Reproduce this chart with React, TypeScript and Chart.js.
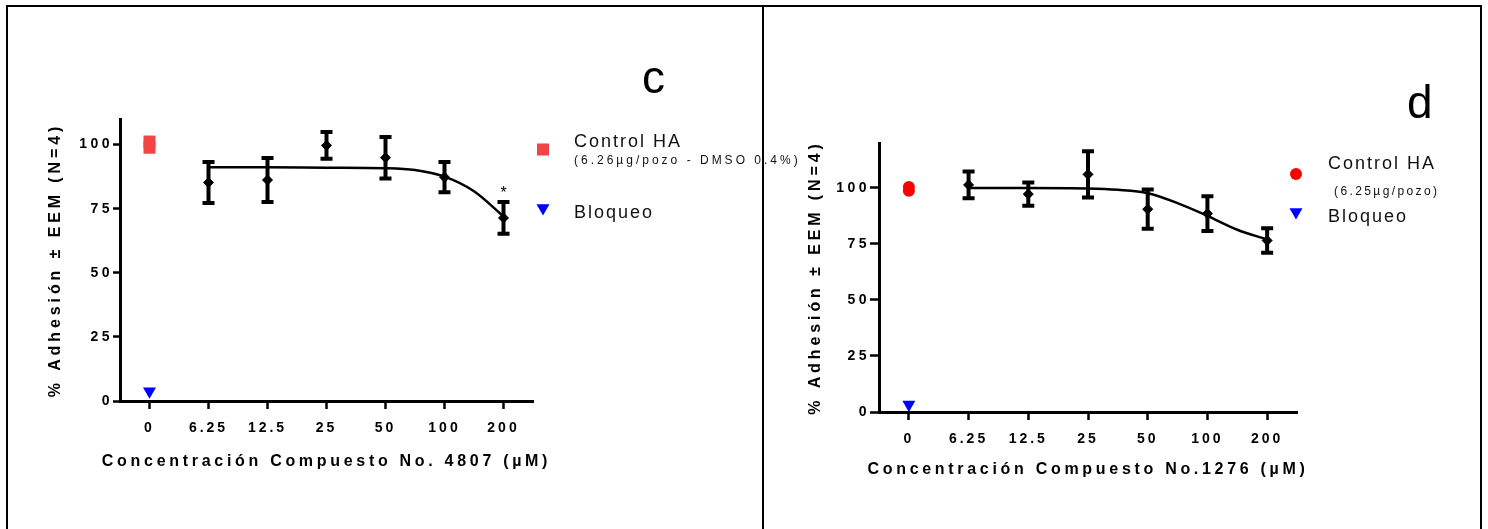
import React, { useEffect, useRef } from "react";
import { Chart, registerables, LinearScale } from "chart.js";
import { drawPoint } from "chart.js/helpers";

Chart.register(...registerables);

class SpacedLinearScale extends LinearScale {
  static id = "spacedLinear";
  drawLabels(chartArea: any) {
    const ctx = this.ctx as any;
    ctx.save();
    ctx.letterSpacing = (this.options as any).labelSpacing ?? "0px";
    super.drawLabels(chartArea);
    ctx.restore();
  }
  drawTitle() {
    const ctx = this.ctx as any;
    ctx.save();
    ctx.letterSpacing = (this.options as any).titleSpacing ?? "0px";
    const proto = Object.getPrototypeOf(ctx);
    // draw the title without compressing it to the axis length
    ctx.fillText = function (t: string, x: number, y: number) {
      return proto.fillText.call(this, t, x, y);
    };
    try {
      super.drawTitle();
    } finally {
      delete ctx.fillText;
      ctx.restore();
    }
  }
}
Chart.register(SpacedLinearScale as any);
Chart.defaults.font.family = '"Liberation Sans", Arial, sans-serif';

// ---------- data ----------
const X_LABELS = ["0", "6.25", "12.5", "25", "50", "100", "200"];
const Y_TICKS = [0, 25, 50, 75, 100];
const DOSE_IDX = [1, 2, 3, 4, 5, 6];
const Y_TITLE = "% Adhesión ± EEM (N=4)";

// panel c
const C_MEAN = [85.2, 86.2, 99.7, 94.9, 87.3, 71.4];
const C_SEM = [8.0, 8.6, 5.2, 8.1, 5.9, 6.2];
const C_FIT_X = [1, 2, 3, 4, 4.5, 5, 5.5, 6];
const C_FIT_Y = [91.2, 91.2, 91.0, 90.8, 90.1, 87.5, 81.8, 72.0];
const C_CONTROL = [101.2, 98.8];
const C_BLOCK = [3.8];
const C_STAR_IDX = [6];
const C_X_TITLE = "Concentración Compuesto No. 4807 (µM)";
const C_CONTROL_SUB = "(6.26µg/pozo - DMSO 0.4%)";

// panel d
const D_MEAN = [101.3, 97.2, 106.0, 90.5, 88.5, 76.5];
const D_SEM = [6.0, 5.2, 10.3, 8.8, 7.8, 5.5];
const D_FIT_X = [1, 2, 3, 3.5, 4, 4.5, 5, 5.5, 6];
const D_FIT_Y = [99.9, 99.9, 99.7, 99.1, 97.6, 93.2, 87.5, 81.3, 77.0];
const D_CONTROL = [100.4, 98.7];
const D_BLOCK = [3.3];
const D_STAR_IDX: number[] = [];
const D_X_TITLE = "Concentración Compuesto No.1276 (µM)";
const D_CONTROL_SUB = "(6.25µg/pozo)";

type PanelCfg = {
  letter: string;
  mean: number[];
  sem: number[];
  fitX: number[];
  fitY: number[];
  control: number[];
  block: number[];
  stars: number[];
  xTitle: string;
  controlSub: string;
  controlStyle: string;
  controlRadius: number;
  controlColor: string;
  canvasLeft: number;
  canvasWidth: number;
  padding: { left: number; right: number; top: number; bottom: number };
  yWidth: number;
  yMax: number;
  yTickLen: number;
  yTitlePadTop: number;
  xScaleHeight: number;
  xTickPad: number;
  xTitlePadBottom: number;
  letterPos: [number, number];
  legendMarkerX: number;
  legendTextX: number;
  legendSubX: number;
  ctrlMarkerY: number;
  ctrlTextY: number;
  ctrlSubY: number;
  blkMarkerY: number;
  blkTextY: number;
  subSpacing: string;
};

const PANELS: PanelCfg[] = [
  {
    letter: "c",
    mean: C_MEAN,
    sem: C_SEM,
    fitX: C_FIT_X,
    fitY: C_FIT_Y,
    control: C_CONTROL,
    block: C_BLOCK,
    stars: C_STAR_IDX,
    xTitle: C_X_TITLE,
    controlSub: C_CONTROL_SUB,
    controlStyle: "rect",
    controlRadius: 8.5,
    controlColor: "#F24444",
    canvasLeft: 0,
    canvasWidth: 820,
    padding: { left: 48, right: 287, top: 119, bottom: 48 },
    yWidth: 72,
    yMax: 110,
    yTickLen: 7,
    yTitlePadTop: -2,
    xScaleHeight: 80,
    xTickPad: 11,
    xTitlePadBottom: 10,
    letterPos: [642, 93],
    legendMarkerX: 543,
    legendTextX: 574,
    legendSubX: 574,
    ctrlMarkerY: 149.5,
    ctrlTextY: 147,
    ctrlSubY: 164,
    blkMarkerY: 208,
    blkTextY: 218,
    subSpacing: "3px",
  },
  {
    letter: "d",
    mean: D_MEAN,
    sem: D_SEM,
    fitX: D_FIT_X,
    fitY: D_FIT_Y,
    control: D_CONTROL,
    block: D_BLOCK,
    stars: D_STAR_IDX,
    xTitle: D_X_TITLE,
    controlSub: D_CONTROL_SUB,
    controlStyle: "circle",
    controlRadius: 6,
    controlColor: "#FF0000",
    canvasLeft: 764,
    canvasWidth: 724,
    padding: { left: 43, right: 191, top: 143, bottom: 37 },
    yWidth: 72,
    yMax: 120,
    yTickLen: 9,
    yTitlePadTop: -1,
    xScaleHeight: 80,
    xTickPad: 11,
    xTitlePadBottom: 13,
    letterPos: [643, 118],
    legendMarkerX: 532,
    legendTextX: 564,
    legendSubX: 570,
    ctrlMarkerY: 174,
    ctrlTextY: 169,
    ctrlSubY: 195,
    blkMarkerY: 212,
    blkTextY: 222,
    subSpacing: "2.4px",
  },
];

function makePlugin(p: PanelCfg) {
  return {
    id: "panelDecor" + p.letter,
    beforeDatasetsDraw(chart: any) {
      const { ctx } = chart;
      const xs = chart.scales.x;
      const ys = chart.scales.y;
      ctx.save();
      ctx.strokeStyle = "#000";
      ctx.lineWidth = 4;
      ctx.lineCap = "butt";
      DOSE_IDX.forEach((xi, i) => {
        const x = xs.getPixelForValue(xi);
        const yT = ys.getPixelForValue(p.mean[i] + p.sem[i]);
        const yB = ys.getPixelForValue(p.mean[i] - p.sem[i]);
        ctx.beginPath();
        ctx.moveTo(x, yT);
        ctx.lineTo(x, yB);
        ctx.moveTo(x - 6, yT);
        ctx.lineTo(x + 6, yT);
        ctx.moveTo(x - 6, yB);
        ctx.lineTo(x + 6, yB);
        ctx.stroke();
      });
      ctx.restore();
    },
    afterDraw(chart: any) {
      const { ctx } = chart;
      const xs = chart.scales.x;
      const ys = chart.scales.y;
      const ds = chart.data.datasets;
      ctx.save();
      // stars
      ctx.fillStyle = "#000";
      ctx.font = '16px "Liberation Sans", Arial, sans-serif';
      ctx.textAlign = "center";
      ctx.textBaseline = "alphabetic";
      p.stars.forEach((xi) => {
        const i = DOSE_IDX.indexOf(xi);
        const x = xs.getPixelForValue(xi);
        const y = ys.getPixelForValue(p.mean[i] + p.sem[i]) - 4;
        ctx.fillText("*", x, y);
      });
      // panel letter
      ctx.textAlign = "left";
      ctx.font = '46px "Liberation Sans", Arial, sans-serif';
      ctx.fillText(p.letter, p.letterPos[0], p.letterPos[1]);
      // legend markers
      const ctrl = ds[2];
      const blk = ds[3];
      ctx.fillStyle = ctrl.backgroundColor;
      ctx.strokeStyle = ctrl.backgroundColor;
      drawPoint(ctx, { pointStyle: ctrl.pointStyle, radius: ctrl.pointRadius, rotation: 0, borderWidth: 0 } as any, p.legendMarkerX, p.ctrlMarkerY);
      ctx.fillStyle = blk.backgroundColor;
      ctx.strokeStyle = blk.backgroundColor;
      drawPoint(ctx, { pointStyle: blk.pointStyle, radius: blk.pointRadius, rotation: blk.pointRotation, borderWidth: 0 } as any, p.legendMarkerX, p.blkMarkerY);
      // legend text
      ctx.fillStyle = "#111";
      ctx.font = '18px "Liberation Sans", Arial, sans-serif';
      ctx.letterSpacing = "2px";
      ctx.fillText(ctrl.label, p.legendTextX, p.ctrlTextY);
      ctx.fillText(blk.label, p.legendTextX, p.blkTextY);
      ctx.font = '12px "Liberation Sans", Arial, sans-serif';
      ctx.letterSpacing = p.subSpacing;
      ctx.fillText(p.controlSub, p.legendSubX, p.ctrlSubY);
      ctx.restore();
    },
  };
}

function buildConfig(p: PanelCfg): any {
  const gridCommon = (len: number) => ({
    display: true,
    drawOnChartArea: false,
    drawTicks: true,
    tickLength: len,
    tickWidth: 2.5,
    color: "#000",
  });
  return {
    type: "scatter",
    data: {
      datasets: [
        {
          label: "Media",
          data: DOSE_IDX.map((x, i) => ({ x, y: p.mean[i] })),
          pointStyle: "rectRot",
          pointRadius: 5,
          backgroundColor: "#000",
          borderColor: "#000",
          borderWidth: 1,
        },
        {
          label: "Ajuste",
          data: p.fitX.map((x, i) => ({ x, y: p.fitY[i] })),
          showLine: true,
          pointRadius: 0,
          borderColor: "#000",
          backgroundColor: "#000",
          borderWidth: 2.5,
          cubicInterpolationMode: "monotone",
          fill: false,
        },
        {
          label: "Control HA",
          data: p.control.map((y) => ({ x: 0, y })),
          pointStyle: p.controlStyle,
          pointRadius: p.controlRadius,
          backgroundColor: p.controlColor,
          borderColor: p.controlColor,
          borderWidth: 0,
        },
        {
          label: "Bloqueo",
          data: p.block.map((y) => ({ x: 0, y })),
          pointStyle: "triangle",
          pointRotation: 180,
          pointRadius: 7.5,
          backgroundColor: "#0000FF",
          borderColor: "#0000FF",
          borderWidth: 0,
        },
      ],
    },
    options: {
      animation: false,
      responsive: false,
      devicePixelRatio: 1,
      events: [],
      layout: { padding: p.padding },
      plugins: { legend: { display: false }, tooltip: { enabled: false } },
      scales: {
        x: {
          type: "spacedLinear",
          min: -0.5,
          max: 6.5,
          labelSpacing: "3px",
          titleSpacing: "3.7px",
          afterBuildTicks: (s: any) => {
            s.ticks = X_LABELS.map((_, i) => ({ value: i }));
          },
          afterFit: (s: any) => {
            s.height = p.xScaleHeight;
          },
          ticks: {
            callback: (v: number) => X_LABELS[v] ?? "",
            font: { size: 14, weight: "bold" },
            color: "#000",
            padding: p.xTickPad,
            maxRotation: 0,
            autoSkip: false,
          },
          grid: gridCommon(8),
          border: { display: true, width: 3, color: "#000" },
          title: {
            display: true,
            text: p.xTitle,
            font: { size: 16, weight: "bold" },
            color: "#000",
            padding: { top: 0, bottom: p.xTitlePadBottom },
          },
        },
        y: {
          type: "spacedLinear",
          min: 0,
          max: p.yMax,
          labelSpacing: "3.5px",
          titleSpacing: "3.9px",
          afterBuildTicks: (s: any) => {
            s.ticks = Y_TICKS.map((v) => ({ value: v }));
          },
          afterFit: (s: any) => {
            s.width = p.yWidth;
          },
          ticks: {
            font: { size: 14, weight: "bold" },
            color: "#000",
            padding: 0,
          },
          grid: gridCommon(p.yTickLen),
          border: { display: true, width: 3, color: "#000" },
          title: {
            display: true,
            text: Y_TITLE,
            font: { size: 16, weight: "bold" },
            color: "#000",
            padding: { top: p.yTitlePadTop, bottom: 0 },
          },
        },
      },
    },
    plugins: [makePlugin(p)],
  };
}

function PanelChart({ p }: { p: PanelCfg }) {
  const ref = useRef<HTMLCanvasElement>(null);
  useEffect(() => {
    const chart = new Chart(ref.current as HTMLCanvasElement, buildConfig(p));
    return () => chart.destroy();
  }, [p]);
  return (
    <canvas
      ref={ref}
      width={p.canvasWidth}
      height={529}
      style={{ position: "absolute", left: p.canvasLeft, top: 0, width: p.canvasWidth, height: 529 }}
    />
  );
}

export default function App() {
  const line = (left: number, top: number, width: number, height: number) => (
    <div style={{ position: "absolute", left, top, width, height, background: "#000" }} />
  );
  return (
    <div style={{ position: "absolute", left: 0, top: 0, width: 1488, height: 529, overflow: "hidden", background: "#fff" }}>
      {PANELS.map((p) => (
        <PanelChart key={p.letter} p={p} />
      ))}
      {line(6, 5, 1476, 2)}
      {line(6, 5, 2, 524)}
      {line(762, 5, 2, 524)}
      {line(1480, 5, 2, 524)}
    </div>
  );
}
